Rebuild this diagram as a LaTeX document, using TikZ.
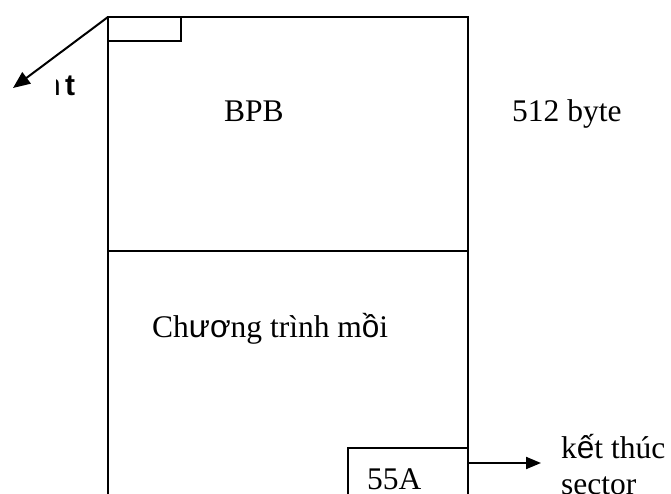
\documentclass[tikz,border=0pt]{standalone}
\usepackage{fontspec}
\setmainfont{Liberation Serif}
\newfontfamily\altsans{Liberation Sans}
\usetikzlibrary{arrows.meta}
\begin{document}
\begin{tikzpicture}[x=1pt,y=-1pt,
  frame/.style={line width=2pt},
  lbl/.style={font=\fontsize{31.5}{36}\selectfont,inner sep=0pt,anchor=base west},
  ptr/.style={line width=2pt,-{Triangle[length=17pt,width=14pt]}}]
\clip (0,0) rectangle (671,494);
\fill[white] (0,0) rectangle (671,494);
% main frame
\coordinate (tl) at (108,17);
\coordinate (tr) at (468,17);
\coordinate (bl) at (108,500);
\coordinate (br) at (468,500);
\draw[frame] (bl) -- (tl) -- (tr) -- (br);
\draw[frame] (108,251) -- (468,251);
% small top-left box
\draw[frame] (tl) rectangle (181,41);
% 55A box
\draw[frame] (348,500) -- (348,448) -- (468,448);
\node[lbl] (bpb) at (224,122) {BPB};
\node[lbl] (size) at (512,122) {512 byte};
\node[lbl] (prog) at (152,337) {Ch{\altsans ươ}ng trình m{\altsans ồ}i};
\node[lbl] (sig) at (367,489) {55A};
\node[lbl] (end) at (561,458) {k{\altsans ế}t thúc};
\node[lbl] (sec) at (561,494) {sector};
% pointer arrows
\coordinate (p1) at (13,88);
\draw[ptr] (tl) -- (p1);
\coordinate (a0) at (468,463);
\coordinate (a1) at (541,463);
\draw[ptr,-{Triangle[length=15pt,width=12pt]}] (a0) -- (a1);
% clipped label at left
\node[font=\altsans\bfseries\fontsize{30}{34}\selectfont,inner sep=0pt,anchor=base west] (tt) at (65,96) {t};
\begin{scope}
\clip (56.5,60) rectangle (62,110);
\node[font=\altsans\fontsize{30}{34}\selectfont,inner sep=0pt,anchor=base east] (tn) at (61,96) {n};
\end{scope}
\end{tikzpicture}
\end{document}
